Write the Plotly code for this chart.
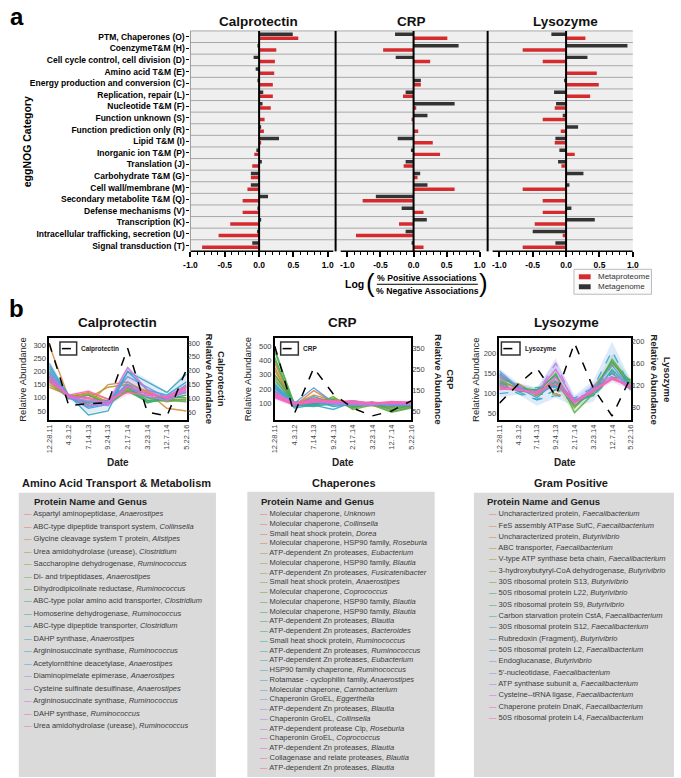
import plotly.graph_objects as go

W, H = 681, 778
def px(x): return x / W
def py(y): return 1 - y / H

FONT = "Liberation Sans, Arial, sans-serif"

# ---------------- Panel a data ----------------
categories = ["PTM, Chaperones (O)", "CoenzymeT&M (H)", "Cell cycle control, cell division (D)",
              "Amino acid T&M (E)", "Energy production and conversion (C)", "Replication, repair (L)",
              "Nucleotide T&M (F)", "Function unknown (S)", "Function prediction only (R)",
              "Lipid T&M (I)", "Inorganic ion T&M (P)", "Translation (J)", "Carbohydrate T&M (G)",
              "Cell wall/membrane (M)", "Secondary metabolite T&M (Q)", "Defense mechanisms (V)",
              "Transcription (K)", "Intracellular trafficking, secretion (U)", "Signal transduction (T)"]
calp_proteome = [0.57, 0.25, 0.23, 0.22, 0.20, 0.20, 0.17, 0.08, 0.07, 0.03, -0.07, -0.10, -0.12, -0.17, -0.24, -0.24, -0.42, -0.59, -0.83]
calp_genome = [0.49, -0.02, -0.08, -0.05, -0.01, 0.06, 0.05, 0.0, 0.03, 0.29, -0.04, 0.04, -0.12, -0.12, 0.13, -0.01, 0.03, -0.03, -0.10]
crp_proteome = [0.51, -0.46, 0.25, 0.0, 0.11, -0.16, 0.04, -0.02, 0.07, 0.29, 0.40, -0.15, 0.06, 0.62, -0.77, 0.15, -0.22, -0.87, 0.15]
crp_genome = [-0.28, 0.68, -0.27, 0.0, 0.11, -0.12, 0.62, 0.21, 0.0, -0.24, -0.04, -0.12, 0.10, 0.21, -0.57, -0.18, 0.20, -0.12, -0.03]
lyso_proteome = [0.29, -0.65, -0.35, 0.46, 0.49, 0.36, -0.17, -0.35, -0.08, -0.17, 0.13, -0.07, 0.0, -0.65, -0.35, -0.35, -0.47, -0.05, -0.65]
lyso_genome = [-0.22, 0.92, 0.32, 0.0, -0.03, -0.18, -0.15, -0.05, 0.18, -0.16, -0.10, -0.12, 0.26, 0.05, 0.0, 0.08, 0.43, -0.50, -0.16]
panel_a_titles = ["Calprotectin", "CRP", "Lysozyme"]
x_tickvals = [-1, -0.5, 0, 0.5, 1]
x_ticktext = ["-1.0", "-0.5", "0.0", "0.5", "1.0"]

# ---------------- Panel b data ----------------
dates = ["12.28.11", "4.3.12", "7.14.13", "9.24.13", "2.17.14", "3.23.14", "12.7.14", "5.22.16"]

calp_marker = [300, 73, 80, 84, 281, 50, 35, 205]
calp_lines = [
    [180, 110, 95, 90, 125, 120, 95, 135],
    [165, 105, 120, 95, 140, 115, 95, 110],
    [300, 100, 75, 150, 160, 120, 60, 50],
    [140, 110, 100, 140, 150, 125, 90, 95],
    [150, 105, 115, 85, 135, 100, 85, 95],
    [160, 100, 110, 80, 130, 90, 95, 90],
    [170, 95, 110, 75, 125, 85, 90, 85],
    [180, 105, 85, 80, 140, 80, 100, 100],
    [200, 100, 80, 85, 145, 90, 95, 110],
    [190, 110, 70, 90, 150, 100, 100, 120],
    [220, 110, 35, 50, 200, 160, 120, 190],
    [210, 105, 60, 75, 200, 130, 110, 160],
    [230, 100, 65, 80, 180, 140, 100, 150],
    [195, 105, 85, 70, 160, 110, 105, 140],
    [175, 100, 90, 85, 140, 105, 90, 125],
    [185, 110, 70, 80, 215, 130, 95, 130],
    [170, 105, 100, 75, 145, 115, 100, 140],
    [160, 110, 125, 95, 120, 110, 105, 145],
]
calp_band_blue_lo = [180, 95, 40, 55, 150, 110, 95, 150]
calp_band_blue_hi = [240, 118, 85, 95, 215, 170, 125, 200]
calp_band_pink_lo = [140, 98, 80, 70, 110, 100, 85, 110]
calp_band_pink_hi = [200, 115, 130, 100, 220, 135, 108, 150]

crp_marker = [360, 36, 255, 131, 64, 26, 50, 98]
crp_lines = [
    [150, 90, 130, 110, 90, 100, 80, 90],
    [180, 100, 140, 120, 100, 90, 85, 95],
    [380, 85, 190, 110, 95, 100, 70, 85],
    [330, 95, 160, 120, 85, 110, 80, 80],
    [300, 100, 120, 100, 100, 90, 90, 100],
    [280, 90, 110, 130, 80, 95, 75, 85],
    [350, 80, 100, 120, 70, 100, 60, 75],
    [400, 95, 110, 140, 90, 85, 70, 80],
    [460, 100, 90, 150, 60, 90, 40, 70],
    [480, 90, 85, 130, 70, 100, 45, 75],
    [420, 85, 95, 125, 80, 110, 55, 90],
    [300, 110, 100, 120, 90, 105, 80, 95],
    [260, 100, 90, 110, 85, 95, 90, 100],
    [240, 90, 80, 100, 110, 100, 95, 90],
    [220, 95, 110, 90, 100, 110, 85, 85],
    [210, 80, 120, 80, 95, 90, 100, 95],
    [230, 70, 90, 60, 110, 95, 110, 105],
    [190, 85, 150, 100, 120, 100, 90, 100],
    [230, 100, 210, 110, 100, 105, 95, 90],
    [200, 90, 130, 95, 105, 100, 85, 95],
    [180, 100, 120, 100, 95, 90, 100, 100],
    [170, 110, 110, 105, 90, 95, 95, 105],
    [160, 95, 115, 110, 100, 100, 105, 95],
    [150, 100, 120, 120, 110, 95, 110, 110],
    [140, 90, 110, 115, 105, 110, 100, 100],
    [170, 100, 130, 110, 120, 100, 115, 105],
    [160, 95, 125, 120, 110, 105, 110, 110],
]
crp_band_lo = [130, 75, 85, 85, 80, 85, 75, 80]
crp_band_hi = [220, 115, 150, 125, 125, 115, 120, 120]

lyso_marker = [88, 122, 151, 101, 196, 115, 65, 135]
lyso_lines = [
    [130, 115, 100, 125, 80, 105, 135, 120],
    [120, 110, 95, 110, 75, 100, 140, 115],
    [115, 120, 105, 100, 85, 95, 150, 110],
    [125, 115, 100, 99, 80, 100, 170, 125],
    [110, 125, 95, 140, 70, 110, 180, 120],
    [135, 110, 105, 130, 65, 115, 175, 130],
    [140, 120, 100, 150, 53, 100, 185, 125],
    [145, 115, 108, 145, 70, 105, 180, 115],
    [130, 105, 110, 120, 80, 95, 140, 135],
    [120, 110, 115, 115, 75, 110, 150, 120],
    [150, 115, 90, 130, 85, 95, 160, 110],
    [125, 100, 85, 110, 90, 100, 155, 125],
    [100, 105, 85, 95, 89, 115, 205, 115],
    [156, 115, 100, 120, 80, 110, 170, 112],
    [140, 110, 105, 135, 78, 115, 150, 118],
    [145, 120, 100, 175, 75, 120, 143, 110],
    [120, 110, 102, 160, 82, 112, 140, 120],
    [110, 112, 98, 140, 78, 105, 138, 115],
    [115, 108, 104, 125, 76, 108, 136, 118],
]
lyso_dashed = [False, True, True, True, True, False, False, False, True, True, False, True, True, False, True, True, False, False, False]
lyso_band_blue_lo = [90, 98, 70, 90, 68, 80, 150, 103]
lyso_band_blue_hi = [162, 126, 115, 180, 96, 132, 228, 132]
lyso_band_purple_lo = [110, 105, 95, 120, 70, 100, 128, 108]
lyso_band_purple_hi = [150, 125, 112, 188, 90, 126, 160, 126]
lyso_band_green_lo = [120, 105, 95, 120, 48, 95, 158, 113]
lyso_band_green_hi = [152, 122, 112, 162, 82, 117, 198, 137]

# ---------------- Tables ----------------
amino_entries = [
    ("Aspartyl aminopeptidase", "Anaerostipes"), ("ABC-type dipeptide transport system", "Collinsella"),
    ("Glycine cleavage system T protein", "Alistipes"), ("Urea amidohydrolase (urease)", "Clostridium"),
    ("Saccharopine dehydrogenase", "Ruminococcus"), ("Di- and tripeptidases", "Anaerostipes"),
    ("Dihydrodipicolinate reductase", "Ruminococcus"), ("ABC-type polar amino acid transporter", "Clostridium"),
    ("Homoserine dehydrogenase", "Ruminococcus"), ("ABC-type dipeptide transporter", "Clostridium"),
    ("DAHP synthase", "Anaerostipes"), ("Argininosuccinate synthase", "Ruminococcus"),
    ("Acetylornithine deacetylase", "Anaerostipes"), ("Diaminopimelate epimerase", "Anaerostipes"),
    ("Cysteine sulfinate desulfinase", "Anaerostipes"), ("Argininosuccinate synthase", "Ruminococcus"),
    ("DAHP synthase", "Ruminococcus"), ("Urea amidohydrolase (urease)", "Ruminococcus"),
]
chap_entries = [
    ("Molecular chaperone", "Unknown"), ("Molecular chaperone", "Collinsella"),
    ("Small heat shock protein", "Dorea"), ("Molecular chaperone, HSP90 family", "Roseburia"),
    ("ATP-dependent Zn proteases", "Eubacterium"), ("Molecular chaperone, HSP90 family", "Blautia"),
    ("ATP-dependent Zn proteases", "Fusicatenibacter"), ("Small heat shock protein", "Anaerostipes"),
    ("Molecular chaperone", "Coprococcus"), ("Molecular chaperone, HSP90 family", "Blautia"),
    ("Molecular chaperone, HSP90 family", "Blautia"), ("ATP-dependent Zn proteases", "Blautia"),
    ("ATP-dependent Zn proteases", "Bacteroides"), ("Small heat shock protein", "Ruminococcus"),
    ("ATP-dependent Zn proteases", "Ruminococcus"), ("ATP-dependent Zn proteases", "Eubacterium"),
    ("HSP90 family chaperone", "Ruminococcus"), ("Rotamase - cyclophilin family", "Anaerostipes"),
    ("Molecular chaperone", "Carnobacterium"), ("Chaperonin GroEL", "Eggerthella"),
    ("ATP-dependent Zn proteases", "Blautia"), ("Chaperonin GroEL", "Collinsella"),
    ("ATP-dependent protease Clp", "Roseburia"), ("Chaperonin GroEL", "Coprococcus"),
    ("ATP-dependent Zn proteases", "Blautia"), ("Collagenase and relate proteases", "Blautia"),
    ("ATP-dependent Zn proteases", "Blautia"),
]
gram_entries = [
    ("Uncharacterized protein", "Faecalibacterium"), ("FeS assembly ATPase SufC", "Faecalibacterium"),
    ("Uncharacterized protein", "Butyrivibrio"), ("ABC transporter", "Faecalibacterium"),
    ("V-type ATP synthase beta chain", "Faecalibacterium"), ("3-hydroxybutyryl-CoA dehydrogenase", "Butyrivibrio"),
    ("30S ribosomal protein S13", "Butyrivibrio"), ("50S ribosomal protein L22", "Butyrivibrio"),
    ("30S ribosomal protein S9", "Butyrivibrio"), ("Carbon starvation protein CstA", "Faecalibacterium"),
    ("30S ribosomal protein S12", "Faecalibacterium"), ("Rubredoxin (Fragment)", "Butyrivibrio"),
    ("50S ribosomal protein L2", "Faecalibacterium"), ("Endoglucanase", "Butyrivibrio"),
    ("5'-nucleotidase", "Faecalibacterium"), ("ATP synthase subunit a", "Faecalibacterium"),
    ("Cysteine--tRNA ligase", "Faecalibacterium"), ("Chaperone protein DnaK", "Faecalibacterium"),
    ("50S ribosomal protein L4", "Faecalibacterium"),
]

# ---------------- colours ----------------
anchors = ['#f77189', '#ce9032', '#97a431', '#32b166', '#36ada4', '#39a7d0', '#a48cf4', '#f561dd']
def hex2rgb(h): return tuple(int(h[i:i + 2], 16) for i in (1, 3, 5))
def palette(n):
    out = []
    for i in range(n):
        t = i * len(anchors) / n
        k = int(t); f = t - k
        a = hex2rgb(anchors[k]); b = hex2rgb(anchors[(k + 1) % len(anchors)])
        c = tuple(int(round(a[j] + (b[j] - a[j]) * f)) for j in range(3))
        out.append('#%02x%02x%02x' % c)
    return out

RED = "#d52b2f"
BLACK = "#333333"

fig = go.Figure()
shapes = []
ann = []

def A(text, x, y, size, xanchor="center", angle=0, color="black", yanchor="middle"):
    ann.append(dict(text=text, x=px(x), y=py(y), xref="paper", yref="paper", showarrow=False,
                    xanchor=xanchor, yanchor=yanchor, textangle=angle,
                    font=dict(size=size, family=FONT, color=color)))

# ---------------- Panel a ----------------
a_top, a_bot = 29, 250
a_domains = [(187, 335), (335, 490), (490, 638)]
a_ranges = [[-1.0, 1.114], [-1.178, 1.119], [-1.175, 1.0]]
a_axis_line = [(-1.0, 1.08), (-1.1, 1.0), (-1.1, 1.0)]
a_data = [(calp_genome, calp_proteome), (crp_genome, crp_proteome), (lyso_genome, lyso_proteome)]
title_x = [256, 412, 569]
ypos = list(range(len(categories)))
layout_axes = {}
for p in range(3):
    sfx = "" if p == 0 else str(p + 1)
    xa, ya = "x" + sfx, "y" + sfx
    gen, prot = a_data[p]
    fig.add_trace(go.Bar(x=gen, y=ypos, orientation="h", marker_color=BLACK, marker_line_width=0,
                         offset=-0.37, width=0.30, xaxis=xa, yaxis=ya, showlegend=False))
    fig.add_trace(go.Bar(x=prot, y=ypos, orientation="h", marker_color=RED, marker_line_width=0,
                         offset=-0.01, width=0.30, xaxis=xa, yaxis=ya, showlegend=False))
    d0, d1 = a_domains[p]
    layout_axes["xaxis" + sfx] = dict(domain=[px(d0), px(d1)], range=a_ranges[p], anchor=ya,
                                      tickvals=x_tickvals, ticktext=x_ticktext, ticks="outside",
                                      ticklen=5, tickwidth=1.5, tickcolor="black",
                                      minor=dict(tickvals=[-0.9, -0.8, -0.7, -0.6, -0.4, -0.3, -0.2, -0.1,
                                                           0.1, 0.2, 0.3, 0.4, 0.6, 0.7, 0.8, 0.9],
                                                 ticks="outside", ticklen=3, tickwidth=1.2, tickcolor="black"),
                                      tickfont=dict(size=8.5, family=FONT, color="black", weight="bold"),
                                      showgrid=False, zeroline=False, showline=False)
    layout_axes["yaxis" + sfx] = dict(domain=[py(a_bot), py(a_top)], range=[18.5, -0.5], anchor=xa,
                                      tickvals=ypos, ticktext=categories if p == 0 else None,
                                      showticklabels=(p == 0), ticks="outside" if p == 0 else "",
                                      ticklen=3, tickwidth=1.2, tickcolor="black",
                                      tickfont=dict(size=8.5, family=FONT, color="black", weight="bold"),
                                      showgrid=False, zeroline=False, showline=False)
    shapes.append(dict(type="rect", xref="paper", yref="paper", x0=px(d0), x1=px(d1), y0=py(a_bot), y1=py(a_top),
                       fillcolor="#efefef", line_width=0, layer="below"))
    shapes.append(dict(type="line", xref=xa, yref="paper", x0=0, x1=0, y0=py(a_bot), y1=py(a_top),
                       line=dict(color="black", width=2)))
    shapes.append(dict(type="line", xref=xa, yref="paper", x0=a_axis_line[p][0], x1=a_axis_line[p][1],
                       y0=py(a_bot), y1=py(a_bot), line=dict(color="black", width=1.5)))
    A("<b>%s</b>" % panel_a_titles[p], title_x[p], 20, 13.5, color="#111")

for i in range(len(categories)):
    yy = a_top + (a_bot - a_top) * i / len(categories)
    shapes.append(dict(type="line", xref="paper", yref="paper", x0=px(187), x1=px(638), y0=py(yy), y1=py(yy),
                       line=dict(color="#a8a8a8", width=1), layer="below"))
for xx in (335, 490):
    shapes.append(dict(type="line", xref="paper", yref="paper", x0=px(xx), x1=px(xx), y0=py(a_bot), y1=py(a_top),
                       line=dict(color="black", width=2)))
shapes.append(dict(type="line", xref="paper", yref="paper", x0=px(187), x1=px(187), y0=py(a_bot), y1=py(a_top),
                   line=dict(color="#999", width=1)))

A("<b>a</b>", 10, 15, 24)
A("<b>eggNOG Category</b>", 20, 140, 10.5, angle=-90)
A("<b>Log</b>", 354, 283, 10.5)
A("(", 371, 282, 26)
A(")", 486, 282, 26)
A("<b>% Positive Associations</b>", 428, 276.5, 8.7)
A("<b>% Negative Associations</b>", 429, 290, 8.7)
shapes.append(dict(type="line", xref="paper", yref="paper", x0=px(377), x1=px(480), y0=py(283), y1=py(283),
                   line=dict(color="black", width=1)))
shapes.append(dict(type="rect", xref="paper", yref="paper", x0=px(578), x1=px(657), y0=py(293), y1=py(268),
                   fillcolor="#fbfbfb", line=dict(color="#bbbbbb", width=1)))
for k, (lab, col) in enumerate([("Metaproteome", RED), ("Metagenome", BLACK)]):
    yc = 275.5 + k * 10
    shapes.append(dict(type="rect", xref="paper", yref="paper", x0=px(583), x1=px(595), y0=py(yc + 2.5),
                       y1=py(yc - 2.5), fillcolor=col, line_width=0))
    A(lab, 600, yc, 8, xanchor="left", color="#333")

# ---------------- Panel b ----------------
A("<b>b</b>", 10, 307, 24)
b_top, b_bot = 337, 419
b_specs = [
    dict(name="Calprotectin", dom=(43, 183), lrange=[16, 326], rrange=[21, 318],
         ltick=[50, 100, 150, 200, 250, 300], rtick=[50, 100, 150, 200, 250, 300],
         lines=calp_lines, marker=calp_marker, dashed=None,
         bands=[(calp_band_blue_lo, calp_band_blue_hi, "rgba(120,170,230,0.22)"),
                (calp_band_pink_lo, calp_band_pink_hi, "rgba(240,130,190,0.22)")],
         ltitle_x=15, rtitle_x=213.5, cx=113, leg=(54, 71), legtext_x=73),
    dict(name="CRP", dom=(273, 412), lrange=[-13, 555], rrange=[7, 398],
         ltick=[100, 200, 300, 400, 500], rtick=[50, 150, 250, 350],
         lines=crp_lines, marker=crp_marker, dashed=None,
         bands=[(crp_band_lo, crp_band_hi, "rgba(240,120,190,0.22)")],
         ltitle_x=245, rtitle_x=446.5, cx=342, leg=(279, 297), legtext_x=300),
    dict(name="Lysozyme", dom=(502, 636), lrange=[35, 237], rrange=[58, 205],
         ltick=[50, 100, 150, 200], rtick=[80, 120, 160, 200],
         lines=lyso_lines, marker=lyso_marker, dashed=lyso_dashed,
         bands=[(lyso_band_blue_lo, lyso_band_blue_hi, "rgba(120,170,235,0.25)"),
                (lyso_band_purple_lo, lyso_band_purple_hi, "rgba(170,140,220,0.22)"),
                (lyso_band_green_lo, lyso_band_green_hi, "rgba(120,200,120,0.22)")],
         ltitle_x=477, rtitle_x=667.5, cx=570, leg=(504, 523), legtext_x=526),
]
xs = list(range(len(dates)))
for p, s in enumerate(b_specs):
    xi, yl, yr = 4 + p, 4 + p, 7 + p
    xa, yla, yra = "x%d" % xi, "y%d" % yl, "y%d" % yr
    for lo, hi, col in s["bands"]:
        fig.add_trace(go.Scatter(x=xs + xs[::-1], y=hi + lo[::-1], fill="toself", fillcolor=col,
                                 line=dict(width=0), mode="lines", hoverinfo="skip",
                                 xaxis=xa, yaxis=yla, showlegend=False))
    cols = palette(len(s["lines"]))
    for i, vals in enumerate(s["lines"]):
        dash = "dash" if (s["dashed"] and s["dashed"][i]) else "solid"
        fig.add_trace(go.Scatter(x=xs, y=vals, mode="lines", line=dict(color=cols[i], width=1.4, dash=dash),
                                 opacity=0.9, xaxis=xa, yaxis=yla, showlegend=False))
    fig.add_trace(go.Scatter(x=xs, y=s["marker"], mode="lines", line=dict(color="black", width=1.5, dash="dash"),
                             xaxis=xa, yaxis=yra, showlegend=False))
    d0, d1 = s["dom"]
    tickf = dict(size=7.5, family=FONT, color="#444")
    layout_axes["xaxis%d" % xi] = dict(domain=[px(d0), px(d1)], range=[0, 7], anchor=yla, tickvals=xs,
                                       ticktext=dates, tickangle=-90, tickfont=tickf, showgrid=False,
                                       zeroline=False, showline=True, mirror=True, linecolor="black",
                                       linewidth=1.5, ticks="")
    layout_axes["yaxis%d" % yl] = dict(domain=[py(b_bot), py(b_top)], range=s["lrange"], anchor=xa,
                                       tickvals=s["ltick"], tickfont=tickf, showgrid=False, zeroline=False,
                                       showline=True, mirror=True, linecolor="black", linewidth=1.5, ticks="")
    layout_axes["yaxis%d" % yr] = dict(overlaying=yla, side="right", range=s["rrange"], anchor=xa,
                                       tickvals=s["rtick"], tickfont=tickf, showgrid=False, zeroline=False,
                                       showline=False, ticks="")
    A("<b>%s</b>" % s["name"], s["cx"], 321, 13.5, color="#111")
    A("<b>Date</b>", (d0 + d1) / 2, 462, 10, color="#222")
    A("Relative Abundance", s["ltitle_x"], (b_top + b_bot) / 2, 9.5, angle=-90, color="#222")
    A("<b>%s</b><br><b>Relative Abundance</b>" % s["name"], s["rtitle_x"], (b_top + b_bot) / 2, 9.5,
      angle=90, color="#222")
    l0, l1 = s["leg"]
    shapes.append(dict(type="rect", xref="paper", yref="paper", x0=px(l0), x1=px(l1), y0=py(354), y1=py(341),
                       fillcolor="white", line=dict(color="#333", width=1.5)))
    shapes.append(dict(type="line", xref="paper", yref="paper", x0=px(l0 + 2), x1=px(l1 - 2), y0=py(347.5),
                       y1=py(347.5), line=dict(color="black", width=1.5, dash="dash")))
    A("<b>%s</b>" % s["name"], s["legtext_x"], 347.5, 6.5, xanchor="left", color="#222")

# ---------------- Tables ----------------
tables = [
    dict(title="Amino Acid Transport & Metabolism", entries=amino_entries, box=(12, 213, 492, 777), cx=112,
         head_x=25, dash_x=15, y0=513, step=12.5),
    dict(title="Chaperones", entries=chap_entries, box=(245, 436, 491, 777), cx=344,
         head_x=257, dash_x=256, y0=513, step=9.77),
    dict(title="Gram Positive", entries=gram_entries, box=(476, 680, 492, 777), cx=575,
         head_x=487, dash_x=489, y0=513, step=11.35),
]
for t in tables:
    x0, x1, y0b, y1b = t["box"]
    shapes.append(dict(type="rect", xref="paper", yref="paper", x0=px(x0), x1=px(x1), y0=py(y1b), y1=py(y0b),
                       fillcolor="#dadada", line_width=0, layer="below"))
    A("<b>%s</b>" % t["title"], t["cx"], 482, 11, color="#1a1a1a")
    A("<b>Protein Name and Genus</b>", t["head_x"], 501, 9.5, xanchor="left", color="#222")
    cols = palette(len(t["entries"]))
    for i, (prot, genus) in enumerate(t["entries"]):
        txt = '<span style="color:%s">—</span> %s, <i>%s</i>' % (cols[i], prot, genus)
        A(txt, t["dash_x"], t["y0"] + i * t["step"], 7.5, xanchor="left", color="#3a3a3a")

fig.update_layout(width=W, height=H, margin=dict(l=0, r=0, t=0, b=0), plot_bgcolor="white",
                  paper_bgcolor="white", barmode="overlay", showlegend=False, shapes=shapes, annotations=ann,
                  font=dict(family=FONT), **layout_axes)
fig.write_html("out.html", config={"displayModeBar": False},
               post_script="document.body.style.margin='0px';document.body.style.overflow='hidden';")
